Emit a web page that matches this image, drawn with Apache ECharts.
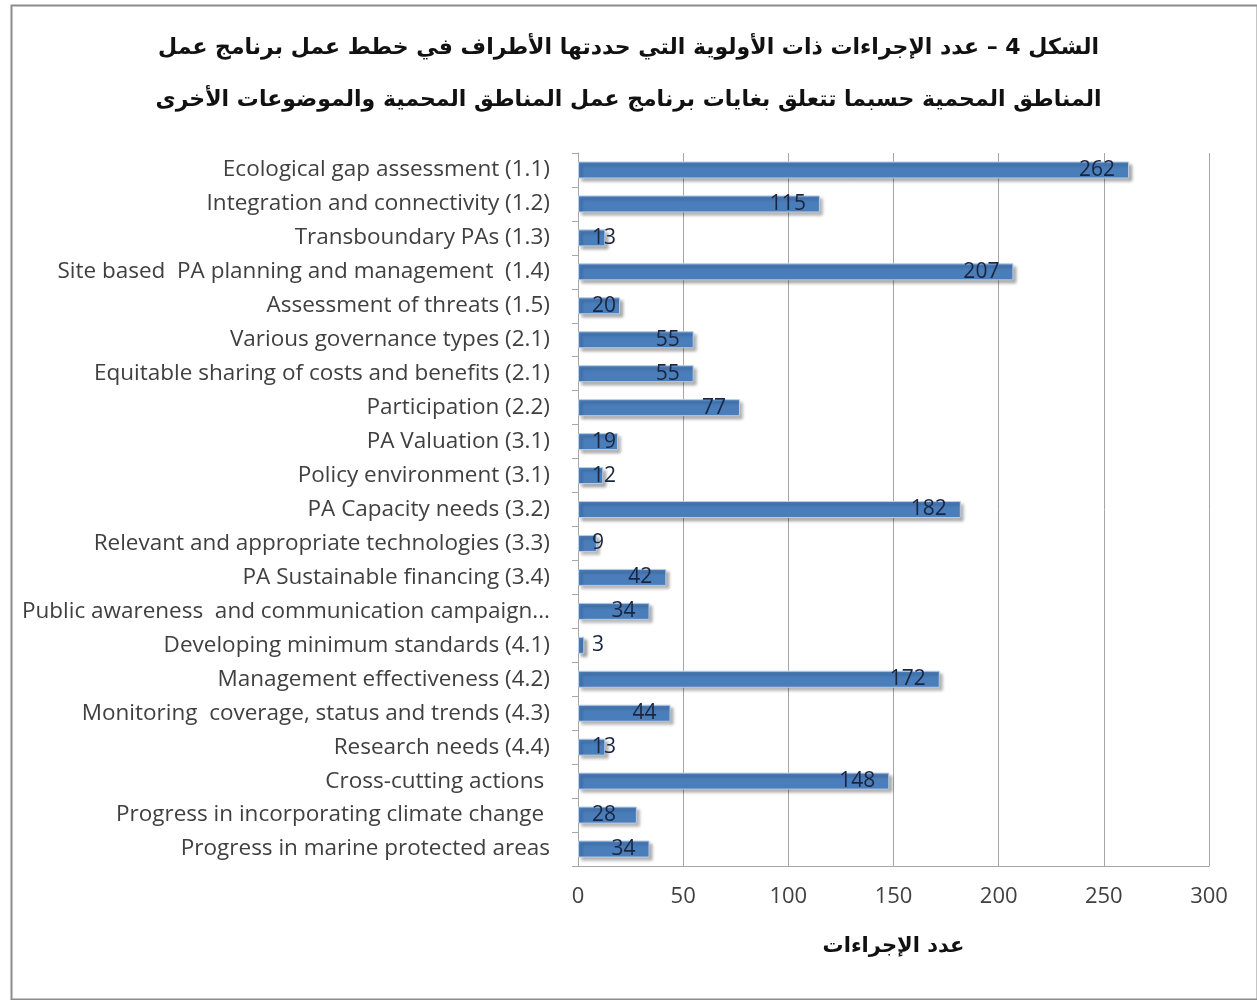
<!DOCTYPE html>
<html>
<head>
<meta charset="utf-8">
<script src="https://cdn.jsdelivr.net/npm/echarts@6/dist/echarts.min.js"></script>
<style>
html,body{margin:0;padding:0;background:#fff;}
#chart{width:1257px;height:1000px;}
</style>
</head>
<body>
<div id="chart"></div>
<script>
const titleLines = [
  "الشكل 4 – عدد الإجراءات ذات الأولوية التي حددتها الأطراف في خطط عمل برنامج عمل",
  "المناطق المحمية حسبما تتعلق بغايات برنامج عمل المناطق المحمية والموضوعات الأخرى"
];
const axisTitle = "عدد الإجراءات";
const categories = [
  "Ecological gap assessment (1.1)",
  "Integration and connectivity (1.2)",
  "Transboundary PAs (1.3)",
  "Site based  PA planning and management  (1.4)",
  "Assessment of threats (1.5)",
  "Various governance types (2.1)",
  "Equitable sharing of costs and benefits (2.1)",
  "Participation (2.2)",
  "PA Valuation (3.1)",
  "Policy environment (3.1)",
  "PA Capacity needs (3.2)",
  "Relevant and appropriate technologies (3.3)",
  "PA Sustainable financing (3.4)",
  "Public awareness  and communication campaign...",
  "Developing minimum standards (4.1)",
  "Management effectiveness (4.2)",
  "Monitoring  coverage, status and trends (4.3)",
  "Research needs (4.4)",
  "Cross-cutting actions ",
  "Progress in incorporating climate change ",
  "Progress in marine protected areas"
];
const values = [262, 115, 13, 207, 20, 55, 55, 77, 19, 12, 182, 9, 42, 34, 3, 172, 44, 13, 148, 28, 34];
const xTicks = [0, 50, 100, 150, 200, 250, 300];

const chart = echarts.init(document.getElementById('chart'), null, {renderer: 'canvas'});
const seriesData = values.map(v => ({
  value: v,
  label: v < 30 ? {position: 'insideLeft', distance: 14} : {position: 'insideRight', distance: 14}
}));
chart.setOption({
  backgroundColor: '#ffffff',
  animation: false,
  graphic: [{
    type: 'rect', left: 9, top: 3, z: -1,
    shape: {width: 1246, height: 994},
    style: {fill: 'none', stroke: '#8c8c8c', lineWidth: 2}
  }, {
    type: 'text', left: 'center', top: 37,
    style: {text: titleLines[0], font: 'bold 22px "DejaVu Sans"', fill: '#111', direction: 'rtl'}
  }, {
    type: 'text', left: 'center', top: 89,
    style: {text: titleLines[1], font: 'bold 22px "DejaVu Sans"', fill: '#111', direction: 'rtl'}
  }],
  grid: {left: 578, right: 48, top: 153, bottom: 134, containLabel: false},
  xAxis: {
    type: 'value', min: 0, max: 300, interval: 50,
    axisLine: {show: true, lineStyle: {color: '#a6a6a6'}},
    axisTick: {show: false},
    splitLine: {show: true, lineStyle: {color: '#a6a6a6', width: 1}},
    axisLabel: {color: '#404040', fontSize: 22, fontFamily: 'Open Sans', margin: 20,
      formatter: v => xTicks.includes(v) ? String(v) : ''},
    name: axisTitle, nameLocation: 'middle', nameGap: 70,
    nameTextStyle: {color: '#111', fontSize: 21, fontWeight: 'bold', fontFamily: 'DejaVu Sans'}
  },
  yAxis: {
    type: 'category', data: categories, inverse: true,
    axisLine: {show: true, lineStyle: {color: '#a6a6a6'}},
    axisTick: {show: true, length: 6, lineStyle: {color: '#a6a6a6'}},
    axisLabel: {color: '#404040', fontSize: 22.5, fontFamily: 'Open Sans', margin: 28}
  },
  series: [{
    type: 'bar', data: seriesData, barWidth: 17,
    itemStyle: {color: '#4a7ebb', borderColor: '#b9cde8', borderWidth: 1,
      shadowColor: 'rgba(0,0,0,0.35)', shadowBlur: 3, shadowOffsetX: 3, shadowOffsetY: 3},
    label: {show: true, color: '#1a2540', fontSize: 21, fontFamily: 'Open Sans'}
  }]
});
</script>
</body>
</html>
